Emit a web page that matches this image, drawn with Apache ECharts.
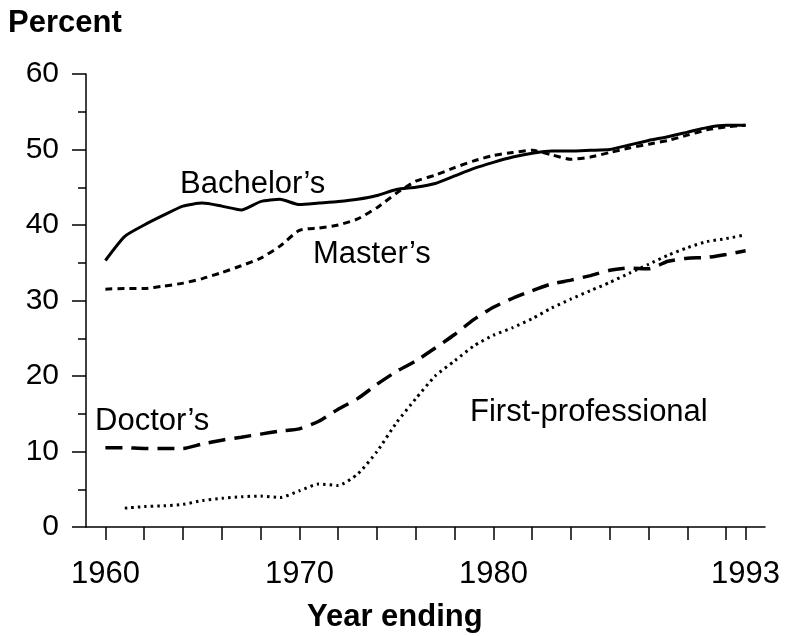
<!DOCTYPE html>
<html>
<head>
<meta charset="utf-8">
<script src="https://cdn.jsdelivr.net/npm/echarts@6/dist/echarts.min.js"></script>
<style>
  html, body { margin: 0; padding: 0; background: #fff; }
  #chart { width: 786px; height: 636px; }
</style>
</head>
<body>
<div id="chart"></div>
<script>
// years 1960-1993, one value per year (percent)
var years = [];
for (var y = 1960; y <= 1993; y++) years.push(String(y));

var bachelors = [35.3, 38.5, 40.0, 41.3, 42.5, 42.9, 42.5, 42.0, 43.1, 43.4,
                 42.7, 42.9, 43.1, 43.4, 43.9, 44.7, 45.0, 45.5, 46.5, 47.5,
                 48.3, 49.0, 49.5, 49.8, 49.8, 49.9, 50.0, 50.6, 51.2, 51.7,
                 52.3, 52.9, 53.2, 53.2];
var masters = [31.5, 31.6, 31.6, 31.9, 32.3, 32.9, 33.7, 34.6, 35.6, 37.2,
               39.3, 39.6, 40.0, 40.8, 42.3, 44.2, 45.8, 46.6, 47.6, 48.5,
               49.2, 49.6, 49.9, 49.3, 48.7, 49.0, 49.6, 50.2, 50.7, 51.2,
               51.9, 52.6, 53.0, 53.2];
var doctors = [10.5, 10.5, 10.4, 10.4, 10.4, 11.0, 11.5, 11.9, 12.3, 12.7,
               13.0, 14.0, 15.6, 17.0, 18.9, 20.6, 22.0, 23.7, 25.5, 27.5,
               29.1, 30.3, 31.3, 32.2, 32.7, 33.3, 34.0, 34.3, 34.2, 35.2,
               35.6, 35.7, 36.1, 36.6];
var firstProf = [null, 2.5, 2.7, 2.8, 3.0, 3.5, 3.8, 4.0, 4.1, 3.9,
                 4.8, 5.7, 5.5, 7.0, 10.0, 13.8, 17.0, 20.0, 22.0, 24.0,
                 25.4, 26.4, 27.6, 29.0, 30.2, 31.3, 32.4, 33.6, 34.8, 36.0,
                 37.0, 37.8, 38.2, 38.7];

var xLabels = ['1960', '1970', '1980', '1993'];
var yTicks = [0, 10, 20, 30, 40, 50, 60];

// axis runs one year past each end
var cats = ['1959'].concat(years, ['1994']);
function pad(arr) { return [null].concat(arr, [null]); }

var font = '"Liberation Sans", Arial, Helvetica, sans-serif';

var chart = echarts.init(document.getElementById('chart'));
var option = {
    backgroundColor: '#fff',
    animation: false,
    grid: {
        left: 86,
        right: 21,
        top: 74,
        bottom: 109
    },
    xAxis: {
        type: 'category',
        data: cats,
        boundaryGap: false,
        axisLine: { lineStyle: { color: '#000', width: 1.5 } },
        axisTick: {
            length: 13,
            lineStyle: { color: '#000', width: 1.5 },
            interval: function (i, v) {
                var n = +v;
                return (n >= 1960 && n <= 1992 && n % 2 === 0) || n === 1993;
            }
        },
        axisLabel: {
            margin: 32,
            color: '#000',
            fontFamily: font,
            fontSize: 31,
            interval: function (i, v) { return xLabels.indexOf(v) >= 0; }
        },
        splitLine: { show: false }
    },
    yAxis: {
        type: 'value',
        min: yTicks[0],
        max: yTicks[yTicks.length - 1],
        interval: 10,
        axisLine: { show: true, lineStyle: { color: '#000', width: 1.5 } },
        axisTick: { show: true, length: 14, lineStyle: { color: '#000', width: 1.5 } },
        minorTick: { show: true, splitNumber: 2, length: 8, lineStyle: { color: '#000', width: 1.5 } },
        axisLabel: {
            margin: 27,
            color: '#000',
            fontFamily: font,
            fontSize: 30
        },
        splitLine: { show: false }
    },
    series: [
        {
            name: "Bachelor's",
            type: 'line',
            data: pad(bachelors),
            showSymbol: false,
            smooth: 0.2,
            lineStyle: { color: '#000', width: 3 }
        },
        {
            name: "Master's",
            type: 'line',
            data: pad(masters),
            showSymbol: false,
            smooth: 0.2,
            lineStyle: { color: '#000', width: 3, type: [7, 5] }
        },
        {
            name: "Doctor's",
            type: 'line',
            data: pad(doctors),
            showSymbol: false,
            smooth: 0.2,
            lineStyle: { color: '#000', width: 3.5, type: [17, 9] }
        },
        {
            name: 'First-professional',
            type: 'line',
            data: pad(firstProf),
            showSymbol: false,
            smooth: 0.2,
            lineStyle: { color: '#000', width: 3, type: [2.5, 4] }
        }
    ],
    graphic: [
        { type: 'text', left: 8, top: 8, style: { text: 'Percent', font: 'bold 31px ' + font, fill: '#000' } },
        { type: 'text', left: 307, top: 602, style: { text: 'Year ending', font: 'bold 31px ' + font, fill: '#000' } },
        { type: 'text', left: 180, top: 169, style: { text: 'Bachelor\u2019s', font: '31px ' + font, fill: '#000' } },
        { type: 'text', left: 313, top: 239, style: { text: 'Master\u2019s', font: '31px ' + font, fill: '#000' } },
        { type: 'text', left: 95, top: 406, style: { text: 'Doctor\u2019s', font: '31px ' + font, fill: '#000' } },
        { type: 'text', left: 470, top: 397, style: { text: 'First-professional', font: '31px ' + font, fill: '#000' } }
    ]
};
chart.setOption(option);

window.onresize = function () {
    chart.resize();
};
</script>
</body>
</html>
